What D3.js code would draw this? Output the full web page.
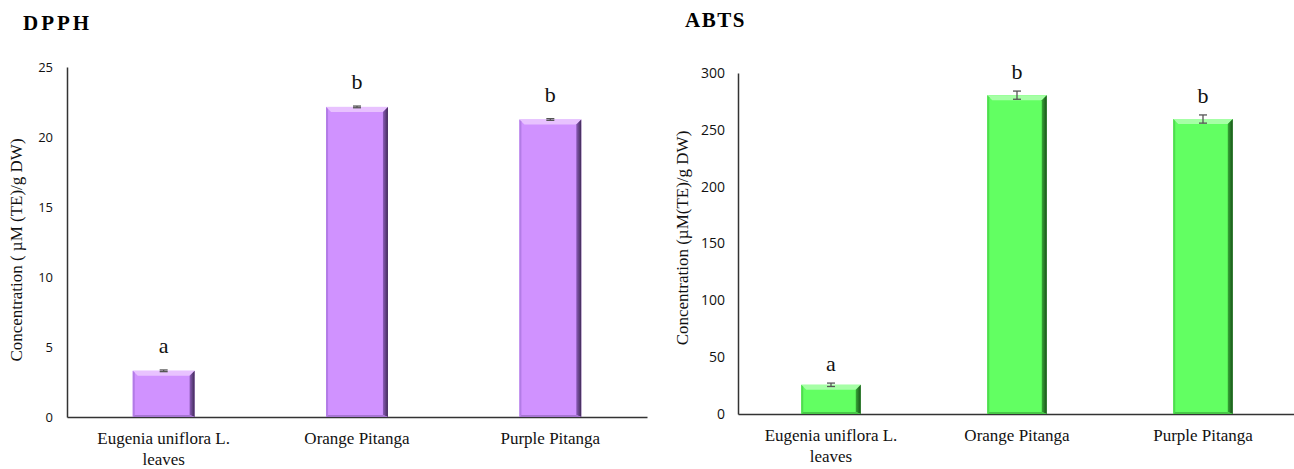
<!DOCTYPE html>
<html>
<head>
<meta charset="utf-8">
<script src="https://cdn.jsdelivr.net/npm/d3@7"></script>
<style>
  body { margin: 0; background: #fff; }
  svg { display: block; }
</style>
</head>
<body>
<svg id="chart" width="1294" height="469"></svg>
<script>
// sample names (shared by both panels)
const categories = ["Eugenia uniflora L. leaves", "Orange Pitanga", "Purple Pitanga"]

// DPPH panel
const dpphValues = [3.3, 22.15, 21.25]
const dpphErrors = [0.06, 0.06, 0.06]
const dpphLetters = ["a", "b", "b"]
const dpphTicks = [0, 5, 10, 15, 20, 25]

// ABTS panel
const abtsValues = [25.7, 280.5, 259.5]
const abtsErrors = [1.5, 3.6, 3.6]
const abtsLetters = ["a", "b", "b"]
const abtsTicks = [0, 50, 100, 150, 200, 250, 300]

const svg = d3.select("#chart")
const defs = svg.append("defs")

function makeGrad(id, stops, horizontal) {
  const g = defs.append("linearGradient").attr("id", id)
    .attr("x1", 0).attr("y1", 0)
    .attr("x2", horizontal ? 1 : 0).attr("y2", horizontal ? 0 : 1)
  stops.forEach(s => g.append("stop").attr("offset", s[0]).attr("stop-color", s[1]))
}

const palettes = {
  purple: { main: "#d092ff", top: "#e8c2ff", left: "#b27ce6", right: ["#8d5cba", "#3f2a55"], bottom: "#a676d2" },
  green: { main: "#62ff62", top: "#a6ffa6", left: "#4fdc4f", right: ["#36a836", "#1a4f1a"], bottom: "#48c848" }
}
Object.keys(palettes).forEach(k => {
  makeGrad("right-" + k, [[0, palettes[k].right[0]], [1, palettes[k].right[1]]], true)
})

function drawPanel(opt) {
  const g = svg.append("g")

  const x = d3.scaleBand()
    .domain(categories)
    .range([opt.left, opt.right])
    .paddingInner(0.68)
    .paddingOuter(0.34)

  const y = d3.scaleLinear()
    .domain([0, d3.max(opt.ticks)])
    .range([opt.bottom, opt.top])

  // title
  g.append("text")
    .attr("x", opt.titleX).attr("y", opt.titleY)
    .attr("font-family", "Liberation Serif, Times New Roman, serif")
    .attr("font-weight", "bold")
    .attr("font-size", 21)
    .attr("letter-spacing", opt.titleSpacing)
    .text(opt.title)

  // y axis
  const yAxis = g.append("g")
    .attr("transform", "translate(" + opt.left + ",0)")
    .call(d3.axisLeft(y).tickValues(opt.ticks).tickSize(0).tickPadding(opt.tickPad))
  yAxis.select(".domain").attr("stroke", "#333").attr("stroke-width", 1.5)
  yAxis.selectAll("text")
    .attr("font-family", "Open Sans, sans-serif")
    .attr("font-size", opt.tickFont)
    .attr("fill", "#111")

  // x axis
  const xAxis = g.append("g")
    .attr("transform", "translate(0," + opt.bottom + ")")
    .call(d3.axisBottom(x).tickSize(0).tickSizeOuter(0).tickFormat(""))
  xAxis.select(".domain").attr("stroke", "#333").attr("stroke-width", 1.5)

  // category labels (wrapped like the original)
  categories.forEach(c => {
    const lines = c === categories[0] ? ["Eugenia uniflora L.", "leaves"] : [c]
    const t = g.append("text")
      .attr("x", x(c) + x.bandwidth() / 2)
      .attr("y", opt.bottom + opt.catDy)
      .attr("text-anchor", "middle")
      .attr("font-family", "Liberation Serif, Times New Roman, serif")
      .attr("font-size", 17)
      .attr("fill", "#111")
    lines.forEach((l, i) => {
      t.append("tspan").attr("x", x(c) + x.bandwidth() / 2).attr("dy", i === 0 ? 0 : 21).text(l)
    })
  })

  // y label
  g.append("text")
    .attr("transform", "translate(" + opt.yLabelX + "," + opt.yLabelY + ") rotate(-90)")
    .attr("text-anchor", "middle")
    .attr("font-family", "Liberation Serif, Times New Roman, serif")
    .attr("font-size", 17)
    .attr("fill", "#111")
    .text(opt.yLabel)

  // bars with bevel
  const pal = palettes[opt.palette]
  const b = 5
  opt.values.forEach((v, i) => {
    const c = categories[i]
    const x0 = x(c), w = x.bandwidth()
    const y0 = y(v), y1 = y(0)
    const bg = g.append("g")
    bg.append("rect").attr("x", x0).attr("y", y0).attr("width", w).attr("height", y1 - y0).attr("fill", pal.main)
    bg.append("polygon").attr("fill", pal.top)
      .attr("points", [[x0, y0], [x0 + w, y0], [x0 + w - b, y0 + b], [x0 + b, y0 + b]].join(" "))
    bg.append("polygon").attr("fill", pal.left)
      .attr("points", [[x0, y0], [x0 + 2, y0 + 2], [x0 + 2, y1 - 2], [x0, y1]].join(" "))
    bg.append("polygon").attr("fill", "url(#right-" + opt.palette + ")")
      .attr("points", [[x0 + w, y0], [x0 + w, y1], [x0 + w - b, y1 - 2], [x0 + w - b, y0 + b]].join(" "))
    bg.append("polygon").attr("fill", pal.bottom)
      .attr("points", [[x0, y1], [x0 + w, y1], [x0 + w - b, y1 - 2], [x0 + 2, y1 - 2]].join(" "))

    // error bar
    const cx = x0 + w / 2
    const e = opt.errors[i]
    const eg = g.append("g").attr("stroke", "#555").attr("stroke-width", 1.3)
    eg.append("line").attr("x1", cx).attr("x2", cx).attr("y1", y(v - e)).attr("y2", y(v + e))
    eg.append("line").attr("x1", cx - 4).attr("x2", cx + 4).attr("y1", y(v - e)).attr("y2", y(v - e))
    eg.append("line").attr("x1", cx - 4).attr("x2", cx + 4).attr("y1", y(v + e)).attr("y2", y(v + e))

    // significance letter
    g.append("text")
      .attr("x", cx)
      .attr("y", y(v + e) - opt.letterGap)
      .attr("text-anchor", "middle")
      .attr("font-family", "Liberation Serif, Times New Roman, serif")
      .attr("font-size", 22)
      .attr("fill", "#111")
      .text(opt.letters[i])
  })
}

drawPanel({
  title: "DPPH", titleX: 23, titleY: 30, titleSpacing: 3,
  left: 67, right: 647, top: 67, bottom: 417,
  ticks: dpphTicks, tickPad: 14, tickFont: 13,
  values: dpphValues, errors: dpphErrors, letters: dpphLetters,
  palette: "purple", letterGap: 17, catDy: 27,
  yLabel: "Concentration ( \u00b5M (TE)/g DW)", yLabelX: 22, yLabelY: 250
})

drawPanel({
  title: "ABTS", titleX: 685, titleY: 27, titleSpacing: 1.5,
  left: 738, right: 1296, top: 73, bottom: 414,
  ticks: abtsTicks, tickPad: 13, tickFont: 14,
  values: abtsValues, errors: abtsErrors, letters: abtsLetters,
  palette: "green", letterGap: 12, catDy: 27,
  yLabel: "Concentration (\u00b5M(TE)/g DW)", yLabelX: 688, yLabelY: 238
})
</script>
</body>
</html>
